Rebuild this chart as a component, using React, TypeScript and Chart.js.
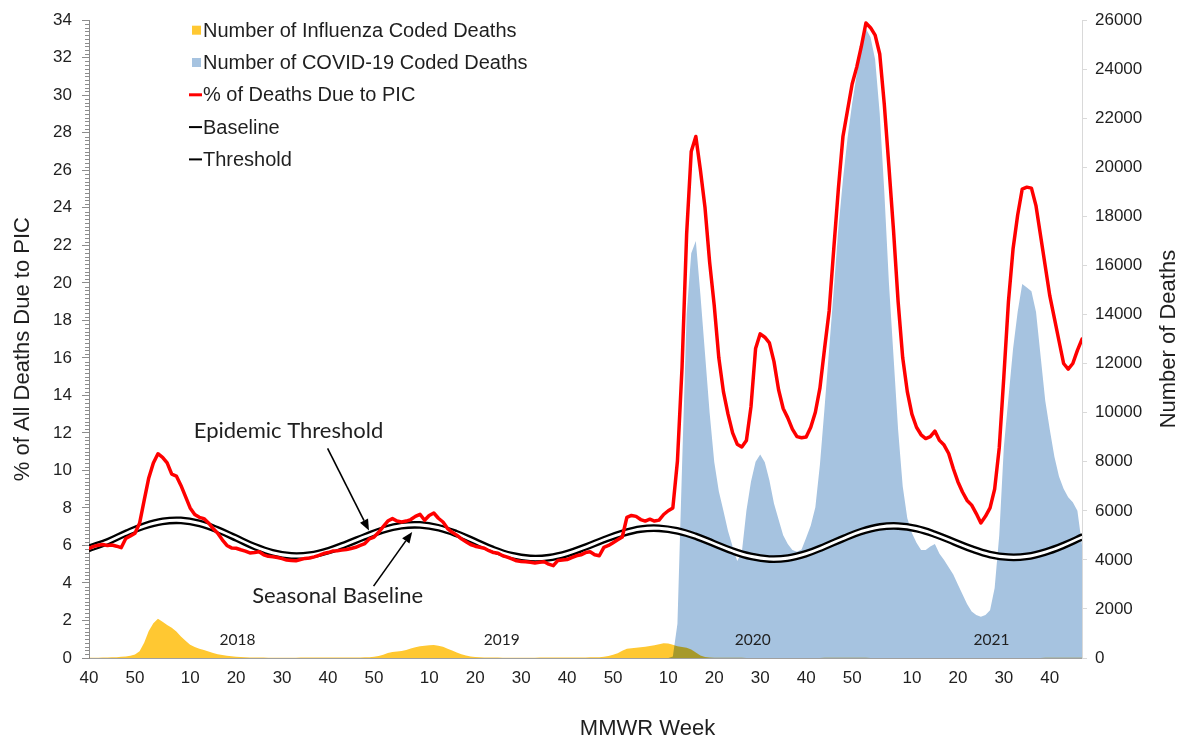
import React, { useEffect, useRef } from 'react';
import { Chart, registerables } from 'chart.js';

// ---------- labels ----------
const FLU_LABEL = 'Number of Influenza Coded Deaths';
const COVID_LABEL = 'Number of COVID-19 Coded Deaths';
const PIC_LABEL = '% of Deaths Due to PIC';
const BASELINE_LABEL = 'Baseline';
const THRESHOLD_LABEL = 'Threshold';

// MMWR weeks shown on the x axis: 2017 wk40 .. 2021 wk47
const seasonSpans = [
  { year: 2017, first: 40, last: 52 },
  { year: 2018, first: 1, last: 52 },
  { year: 2019, first: 1, last: 52 },
  { year: 2020, first: 1, last: 53 },
  { year: 2021, first: 1, last: 47 },
];
const weekNumbers: number[] = [];
seasonSpans.forEach((s) => {
  for (let w = s.first; w <= s.last; w++) weekNumbers.push(w);
});
const weekIndex = weekNumbers.map((_, i) => i);
const xTickIndex = weekIndex.filter((i) => weekNumbers[i] % 10 === 0);

const yearLabels = ['2018', '2019', '2020', '2021'];
const yearLabelWeekIndex = [32.3, 89.8, 144.4, 196.3];

// ---------- series ----------
// % of all deaths due to pneumonia, influenza or COVID-19 (weekly, from 2017 wk40)
const picPercent = [
  5.84, 5.95, 6.01, 6.05, 6.0, 6.02, 5.96, 5.88, 6.37, 6.5,
  6.65, 7.18, 8.4, 9.6, 10.4, 10.89, 10.7, 10.4, 9.8, 9.7,
  9.2, 8.6, 8.0, 7.65, 7.5, 7.43, 7.2, 6.9, 6.65, 6.3,
  6.0, 5.87, 5.85, 5.77, 5.7, 5.6, 5.62, 5.66, 5.5, 5.42,
  5.4, 5.36, 5.3, 5.22, 5.2, 5.18, 5.25, 5.31, 5.33, 5.39,
  5.47, 5.57, 5.62, 5.7, 5.72, 5.75, 5.78, 5.84, 5.9, 6.0,
  6.1, 6.35, 6.45, 6.7, 7.0, 7.3, 7.43, 7.3, 7.25, 7.3,
  7.38, 7.55, 7.66, 7.34, 7.6, 7.73, 7.45, 7.25, 6.9, 6.7,
  6.55, 6.35, 6.2, 6.05, 5.96, 5.9, 5.85, 5.72, 5.62, 5.58,
  5.45, 5.38, 5.28, 5.18, 5.15, 5.13, 5.1, 5.07, 5.1, 5.13,
  5.0, 4.92, 5.2, 5.23, 5.25, 5.35, 5.45, 5.5, 5.62, 5.66,
  5.5, 5.45, 5.9, 6.0, 6.15, 6.3, 6.45, 7.5, 7.6, 7.55,
  7.38, 7.3, 7.4, 7.3, 7.35, 7.65, 7.85, 8.0, 10.5, 15.5,
  22.6, 27.0, 27.8, 26.0, 24.0, 21.1, 18.8, 16.0, 14.2, 13.0,
  12.0, 11.4, 11.25, 11.6, 13.4, 16.5, 17.28, 17.1, 16.8, 15.8,
  14.3, 13.3, 12.8, 12.2, 11.8, 11.74, 11.78, 12.3, 13.1, 14.4,
  16.5, 18.5, 21.8, 25.0, 27.8, 29.2, 30.6, 31.5, 32.6, 33.85,
  33.6, 33.2, 32.2, 29.5, 26.2, 22.8, 19.0, 16.0, 14.2, 13.0,
  12.3, 11.9, 11.7, 11.8, 12.1, 11.6, 11.35, 10.9, 10.1, 9.4,
  8.85, 8.4, 8.15, 7.7, 7.2, 7.55, 8.0, 9.0, 11.2, 15.0,
  19.0, 21.8, 23.6, 25.0, 25.1, 25.05, 24.1, 22.5, 20.9, 19.3,
  18.1, 16.9, 15.7, 15.4, 15.7, 16.4, 17.0,
];

// influenza coded deaths (weekly, from 2017 wk40)
const fluDeaths = [
  10, 12, 15, 18, 22, 28, 35, 50, 65, 90,
  140, 280, 620, 1100, 1420, 1600, 1480, 1350, 1230, 1080,
  880, 700, 540, 450, 380, 330, 270, 200, 150, 120,
  95, 70, 55, 40, 30, 25, 20, 18, 16, 15,
  15, 14, 14, 14, 15, 15, 16, 16, 17, 18,
  18, 18, 18, 19, 20, 20, 20, 20, 22, 25,
  28, 35, 50, 80, 130, 200, 240, 260, 290, 330,
  390, 440, 480, 500, 520, 525, 500, 460, 380, 310,
  220, 150, 100, 65, 40, 28, 22, 20, 18, 16,
  15, 15, 14, 14, 14, 15, 15, 15, 16, 16,
  16, 17, 18, 18, 19, 20, 20, 22, 24, 26,
  30, 35, 50, 80, 130, 190, 300, 380, 400, 420,
  440, 460, 490, 520, 560, 600, 590, 540, 480, 450,
  420, 350, 220, 100, 40, 20, 12, 10, 8, 8,
  7, 6, 6, 5, 5, 5, 5, 4, 4, 4,
  4, 4, 4, 4, 4, 4, 5, 5, 5, 5,
  6, 6, 6, 7, 7, 7, 7, 6, 6, 6,
  5, 5, 5, 5, 4, 4, 4, 4, 4, 4,
  4, 4, 4, 4, 4, 4, 4, 4, 4, 4,
  4, 4, 4, 4, 4, 4, 4, 4, 4, 4,
  4, 4, 5, 5, 5, 5, 5, 5, 6, 6,
  6, 6, 7, 7, 7, 7, 7,
];

// COVID-19 coded deaths (weekly, from 2020 wk10 = week index 126)
const covidFirstWeekIndex = 126;
const covidDeaths = [
  0, 60, 1400, 7800, 14000, 16500, 17000, 14800, 12400, 10000,
  8000, 6800, 6000, 5180, 4550, 3950, 4300, 6000, 7200, 8000,
  8300, 7980, 7250, 6300, 5650, 5000, 4650, 4400, 4330, 4420,
  4900, 5400, 6150, 7900, 10200, 12600, 15000, 17500, 19500, 21200,
  22600, 23800, 24800, 25650, 25300, 24400, 22200, 19000, 15300, 12300,
  9300, 7000, 5700, 5100, 4700, 4400, 4400, 4550, 4650, 4250,
  4000, 3700, 3400, 3000, 2600, 2200, 1900, 1750, 1680, 1750,
  1950, 2850, 5000, 8600, 10600, 12600, 14100, 15250, 15100, 14950,
  14100, 12300, 10500, 9300, 8200, 7400, 6900, 6550, 6350, 6000,
  4600,
];

// seasonal baseline and epidemic threshold, read every 4th week
const baselineWeeks = [
  0, 4, 8, 12, 16, 20, 24, 28, 32, 36, 40, 44, 48, 52, 56, 60, 64, 68, 72,
  76, 80, 84, 88, 92, 96, 100, 104, 108, 112, 116, 120, 124, 128, 132, 136,
  140, 144, 148, 152, 156, 160, 164, 168, 172, 176, 180, 184, 188, 192, 196,
  200, 204, 208, 212, 216,
];
const baselinePct = [
  5.7, 6.05, 6.5, 6.89, 7.14, 7.19, 7.03, 6.69, 6.25, 5.8,
  5.46, 5.3, 5.34, 5.57, 5.93, 6.32, 6.68, 6.91, 6.95, 6.8,
  6.48, 6.06, 5.63, 5.31, 5.16, 5.2, 5.42, 5.77, 6.16, 6.5,
  6.73, 6.77, 6.63, 6.34, 5.95, 5.56, 5.27, 5.13, 5.18, 5.42,
  5.8, 6.22, 6.6, 6.84, 6.89, 6.75, 6.45, 6.06, 5.67, 5.37,
  5.23, 5.27, 5.5, 5.86, 6.3,
];
const thresholdPct = [
  6.0, 6.34, 6.79, 7.18, 7.43, 7.48, 7.32, 6.98, 6.54, 6.09,
  5.75, 5.59, 5.63, 5.86, 6.22, 6.61, 6.97, 7.2, 7.24, 7.09,
  6.77, 6.35, 5.92, 5.6, 5.45, 5.49, 5.71, 6.06, 6.45, 6.79,
  7.02, 7.06, 6.92, 6.63, 6.24, 5.85, 5.56, 5.42, 5.47, 5.71,
  6.09, 6.51, 6.89, 7.13, 7.18, 7.04, 6.74, 6.35, 5.96, 5.66,
  5.52, 5.56, 5.79, 6.15, 6.59,
];

// axis ranges
const pctTicksMax = 34;
const deathsTicksMax = 26000;

// ---------- plugins ----------
const blendPlugin = {
  id: 'fluMultiply',
  beforeDatasetDraw(chart: any, args: any) {
    if (chart.data.datasets[args.index].label === FLU_LABEL) {
      chart.ctx.save();
      chart.ctx.globalCompositeOperation = 'multiply';
    }
  },
  afterDatasetDraw(chart: any, args: any) {
    if (chart.data.datasets[args.index].label === FLU_LABEL) {
      chart.ctx.restore();
    }
  },
};
Chart.register(blendPlugin);
Chart.register(...registerables);

const SANS = "'Liberation Sans', Arial, sans-serif";
const CAL = "Lato, 'Open Sans', sans-serif";
const TEXT = '#1f1f1f';

function drawArrow(ctx: CanvasRenderingContext2D, x1: number, y1: number, x2: number, y2: number) {
  const ang = Math.atan2(y2 - y1, x2 - x1);
  const len = 11;
  const w = 4.5;
  const bx = x2 - len * Math.cos(ang);
  const by = y2 - len * Math.sin(ang);
  ctx.beginPath();
  ctx.moveTo(x1, y1);
  ctx.lineTo(bx, by);
  ctx.stroke();
  ctx.beginPath();
  ctx.moveTo(x2, y2);
  ctx.lineTo(bx + w * Math.sin(ang), by - w * Math.cos(ang));
  ctx.lineTo(bx - w * Math.sin(ang), by + w * Math.cos(ang));
  ctx.closePath();
  ctx.fill();
}

const legendOrder = [FLU_LABEL, COVID_LABEL, PIC_LABEL, BASELINE_LABEL, THRESHOLD_LABEL];

const decorPlugin = {
  id: 'decor',
  afterDraw(chart: any) {
    const ctx: CanvasRenderingContext2D = chart.ctx;
    const area = chart.chartArea;
    const xs = chart.scales.x;
    const yp = chart.scales.yPct;
    const yd = chart.scales.yDeaths;
    const P = (i: number, v: number) => [xs.getPixelForValue(i), yp.getPixelForValue(v)];

    ctx.save();
    // minor ticks on the left axis
    ctx.strokeStyle = '#8c8c8c';
    ctx.lineWidth = 1;
    ctx.beginPath();
    for (let k = 1; k < pctTicksMax * 5; k++) {
      if (k % 10 === 0) continue;
      const y = Math.round(yp.getPixelForValue(k / 5)) + 0.5;
      ctx.moveTo(area.left - 4, y);
      ctx.lineTo(area.left, y);
    }
    ctx.stroke();

    // annotations
    ctx.fillStyle = TEXT;
    ctx.strokeStyle = '#000';
    ctx.lineWidth = 1.6;
    ctx.font = `22px ${CAL}`;
    ctx.textAlign = 'center';
    ctx.textBaseline = 'middle';
    let [tx, ty] = P(43.4, 12.13);
    ctx.fillText('Epidemic Threshold', tx, ty);
    [tx, ty] = P(54.1, 3.3);
    ctx.fillText('Seasonal Baseline', tx, ty);
    ctx.fillStyle = '#000';
    let a = P(51.9, 11.18);
    let b = P(60.9, 6.8);
    drawArrow(ctx, a[0], a[1], b[0], b[1]);
    a = P(61.9, 3.83);
    b = P(70.3, 6.72);
    drawArrow(ctx, a[0], a[1], b[0], b[1]);

    ctx.fillStyle = TEXT;
    ctx.font = `15.5px ${CAL}`;
    yearLabels.forEach((t, k) => {
      const [x, y] = P(yearLabelWeekIndex[k], 0.96);
      ctx.fillText(t, x, y);
    });

    // legend
    ctx.font = `20px ${SANS}`;
    ctx.textAlign = 'left';
    legendOrder.forEach((label, k) => {
      const ds = chart.data.datasets.find((d: any) => d.label === label);
      const y = area.top + 10 + k * 32.3;
      const textX = area.left + 114;
      if (ds.fill === 'origin') {
        ctx.fillStyle = ds.backgroundColor;
        ctx.fillRect(textX - 11, y - 4.5, 9, 9);
      } else {
        ctx.strokeStyle = ds.borderColor;
        ctx.lineWidth = label === PIC_LABEL ? 3 : 2;
        ctx.beginPath();
        ctx.moveTo(textX - 14, y);
        ctx.lineTo(textX - 1, y);
        ctx.stroke();
      }
      ctx.fillStyle = TEXT;
      ctx.fillText(label, textX, y + 1);
    });

    // axis titles
    ctx.font = `22px ${SANS}`;
    ctx.textAlign = 'center';
    ctx.fillStyle = TEXT;
    ctx.save();
    ctx.translate(yp.left + 22.5, (area.top + area.bottom) / 2 + 10);
    ctx.rotate(-Math.PI / 2);
    ctx.fillText('% of All Deaths Due to PIC', 0, 0);
    ctx.restore();
    ctx.save();
    ctx.translate(yd.right - 11, (area.top + area.bottom) / 2);
    ctx.rotate(-Math.PI / 2);
    ctx.fillText('Number of Deaths', 0, 0);
    ctx.restore();
    ctx.fillText('MMWR Week', (area.left + area.right) / 2 + 62, xs.bottom - 11);
    ctx.restore();
  },
};

export default function App() {
  const canvasRef = useRef<HTMLCanvasElement | null>(null);

  useEffect(() => {
    if (!canvasRef.current) return;
    Chart.defaults.font.family = SANS;
    Chart.defaults.font.size = 17;
    Chart.defaults.color = TEXT;

    const chart = new Chart(canvasRef.current, {
      type: 'line',
      data: {
        labels: weekIndex,
        datasets: [
          {
            label: PIC_LABEL,
            data: picPercent,
            yAxisID: 'yPct',
            borderColor: '#FF0000',
            borderWidth: 3.5,
            borderJoinStyle: 'round',
            borderCapStyle: 'round',
            pointRadius: 0,
            fill: false,
            tension: 0,
            order: 0,
          },
          {
            label: BASELINE_LABEL,
            data: baselineWeeks.map((x, k) => ({ x, y: baselinePct[k] })),
            yAxisID: 'yPct',
            borderColor: '#000000',
            borderWidth: 2.3,
            pointRadius: 0,
            fill: false,
            tension: 0.4,
            spanGaps: true,
            order: 1,
          },
          {
            label: THRESHOLD_LABEL,
            data: baselineWeeks.map((x, k) => ({ x, y: thresholdPct[k] })),
            yAxisID: 'yPct',
            borderColor: '#000000',
            backgroundColor: '#ffffff',
            borderWidth: 2.3,
            pointRadius: 0,
            fill: 1,
            tension: 0.4,
            spanGaps: true,
            order: 2,
          },
          {
            label: FLU_LABEL,
            data: fluDeaths,
            yAxisID: 'yDeaths',
            backgroundColor: '#FFC832',
            borderColor: 'rgba(0,0,0,0)',
            borderWidth: 0,
            pointRadius: 0,
            fill: 'origin',
            tension: 0,
            order: 3,
          },
          {
            label: COVID_LABEL,
            data: covidDeaths.map((y, k) => ({ x: covidFirstWeekIndex + k, y })),
            yAxisID: 'yDeaths',
            backgroundColor: '#A6C3E0',
            borderColor: 'rgba(0,0,0,0)',
            borderWidth: 0,
            pointRadius: 0,
            fill: 'origin',
            tension: 0,
            order: 4,
          },
        ] as any,
      },
      options: {
        animation: false,
        responsive: false,
        events: [],
        layout: { padding: { top: 19, left: 0, right: 0, bottom: 0 } },
        plugins: {
          legend: { display: false },
          tooltip: { enabled: false },
        },
        scales: {
          x: {
            type: 'linear',
            min: 0,
            max: weekNumbers.length - 1,
            grid: { display: false, drawTicks: false },
            border: { display: true, color: '#a0a0a0', width: 1 },
            ticks: {
              autoSkip: false,
              maxRotation: 0,
              minRotation: 0,
              padding: 10,
              font: { size: 17 },
              color: TEXT,
              callback: (v: any) => String(weekNumbers[Math.round(Number(v))] ?? ''),
            },
            afterBuildTicks: (scale: any) => {
              scale.ticks = xTickIndex.map((v) => ({ value: v }));
            },
            afterFit: (scale: any) => {
              scale.height = 82;
            },
          },
          yPct: {
            type: 'linear',
            position: 'left',
            min: 0,
            max: pctTicksMax,
            grid: {
              display: true,
              drawOnChartArea: false,
              drawTicks: true,
              tickLength: 7,
              color: '#8c8c8c',
            },
            border: { display: true, color: '#8c8c8c', width: 1 },
            ticks: {
              stepSize: 2,
              maxTicksLimit: 40,
              autoSkip: false,
              padding: 10,
              font: { size: 17 },
              color: TEXT,
              callback: (v: any) => String(v),
            },
            afterFit: (scale: any) => {
              scale.width = 89;
            },
          },
          yDeaths: {
            type: 'linear',
            position: 'right',
            min: 0,
            max: deathsTicksMax,
            grid: {
              display: true,
              drawOnChartArea: false,
              drawTicks: true,
              tickLength: 5,
              color: '#d9d9d9',
            },
            border: { display: true, color: '#d9d9d9', width: 1 },
            ticks: {
              stepSize: 2000,
              maxTicksLimit: 40,
              autoSkip: false,
              padding: 8,
              font: { size: 17 },
              color: TEXT,
              callback: (v: any) => String(v),
            },
            afterFit: (scale: any) => {
              scale.width = 98;
            },
          },
        },
      } as any,
      plugins: [decorPlugin],
    });

    return () => {
      chart.destroy();
    };
  }, []);

  return (
    <div
      style={{
        position: 'absolute',
        left: 0,
        top: 0,
        width: 1180,
        height: 740,
        background: '#ffffff',
      }}
    >
      <canvas
        ref={canvasRef}
        width={1180}
        height={740}
        style={{ display: 'block', width: 1180, height: 740 }}
      />
    </div>
  );
}
